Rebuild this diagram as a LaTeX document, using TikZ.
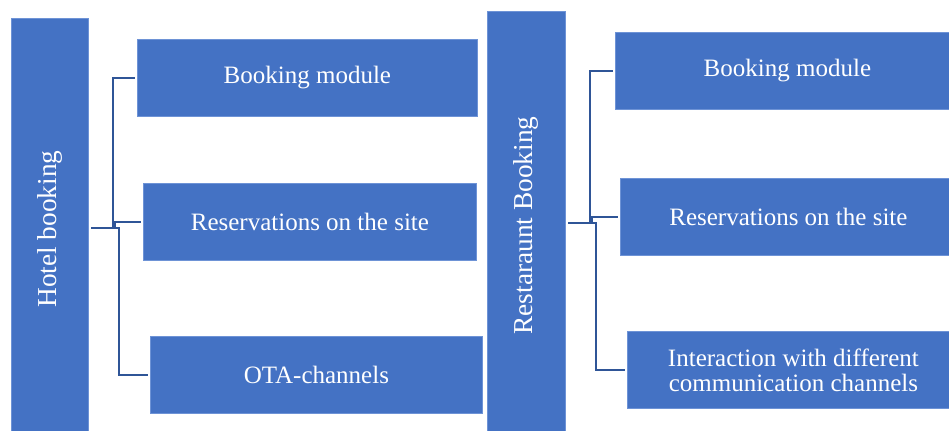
\documentclass[tikz,border=0pt]{standalone}
\usepackage{fontspec}
\setmainfont{Liberation Serif}
\usepackage{tikz}
\usetikzlibrary{positioning}
\definecolor{boxblue}{HTML}{4472C4}
\definecolor{boxedge}{HTML}{6E93D6}
\definecolor{linkblue}{HTML}{2F5597}
\tikzset{
  mainbox/.style={fill=boxblue, draw=boxedge, line width=0.6pt, text=white, inner sep=0pt,
    font=\fontsize{20.5}{24}\selectfont},
  subbox/.style={fill=boxblue, draw=boxedge, line width=0.6pt, text=white, inner sep=0pt,
    anchor=north west, minimum height=57.75pt, align=center,
    font=\fontsize{18.75}{18.75}\selectfont},
  link/.style={draw=linkblue, line width=1.5pt}
}
\begin{document}
\begin{tikzpicture}[x=0.75pt,y=-0.75pt]
%%Location
\useasboundingbox (0,0) rectangle (949,430);
\clip (0,0) rectangle (949,430);
%%Hotel
\node[mainbox, minimum width=57.75pt, minimum height=316.5pt] (hotel) at (49.5,229) {\rotatebox{90}{Hotel booking}};
\node[subbox, minimum width=255pt] (hbook) at (137,39) {Booking module};
\node[subbox, minimum width=249.75pt] (hres) at (143,183) {Reservations on the site};
\node[subbox, minimum width=249pt] (hota) at (150,336) {OTA-channels};
%%Restaurant
\node[mainbox, minimum width=58.5pt, minimum height=321.75pt] (rest) at (526,225.5) {\rotatebox{90}{Restaraunt Booking}};
\node[subbox, minimum width=258pt] (rbook) at (615,32) {Booking module};
\node[subbox, minimum width=252pt] (rres) at (620,178) {Reservations on the site};
\node[subbox, minimum width=249pt] (rint) at (627,331) {Interaction with different\\communication channels};
%%Connectors
\coordinate (hroot) at (91,228);
\coordinate (rroot) at (568,223);
\draw[link, shorten >=1.5pt] (hroot) -- ++(22,0) |- (hbook.west);
\draw[link, shorten >=1.5pt] (hroot) -- ++(24,0) |- (hres.west);
\draw[link, shorten >=1.5pt] (hroot) -- ++(28,0) |- (hota.west);
\draw[link, shorten >=1.5pt] (rroot) -- ++(22,0) |- (rbook.west);
\draw[link, shorten >=1.5pt] (rroot) -- ++(24,0) |- (rres.west);
\draw[link, shorten >=1.5pt] (rroot) -- ++(28,0) |- (rint.west);
\end{tikzpicture}
\end{document}
